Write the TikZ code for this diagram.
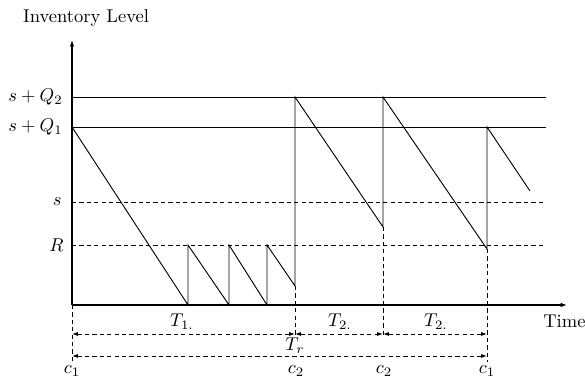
\documentclass[tikz,border=0pt]{standalone}
\usetikzlibrary{arrows.meta}
\begin{document}
\begin{tikzpicture}[x=0.54pt,y=-0.54pt,
  ln/.style={line width=0.5pt},
  dsh/.style={line width=0.5pt,dash pattern=on 2.3pt off 1.7pt},
  ax/.style={line width=0.6pt,-{Latex[length=3.4pt,width=2.4pt]}},
  dim/.style={dsh,{Latex[length=3.2pt,width=2.2pt]}-{Latex[length=3.2pt,width=2.2pt]}},
  dimr/.style={dsh,-{Latex[length=3.2pt,width=2.2pt]}},
  lbl/.style={inner sep=0pt}]
\useasboundingbox (0,0) rectangle (585,383);
% key coordinates
\coordinate (O) at (72,305);
\coordinate (Ytop) at (72,40);
\coordinate (Xend) at (567,305);
% labels
\node[lbl] (title) at (86,18) {Inventory Level};
\node[lbl,anchor=east] (lq2) at (63,97) {$s+Q_2$};
\node[lbl,anchor=east] (lq1) at (63,127) {$s+Q_1$};
\node[lbl,anchor=east] (ls) at (62,202) {$s$};
\node[lbl,anchor=east] (lR) at (64,245) {$R$};
\node[lbl,anchor=west] (time) at (543,321) {Time};
% axes
\draw[ax] (O) -- (Ytop);
\draw[ax] (O) -- (Xend);
% level lines
\draw[ln] (72,97) coordinate (q2a) -- (546,97) coordinate (q2b);
\draw[ln] (72,127) coordinate (q1a) -- (546,127) coordinate (q1b);
\draw[dsh] (72,202) coordinate (sa) -- (546,202) coordinate (sb);
\draw[dsh] (72,245) coordinate (ra) -- (546,245) coordinate (rb);
% sawtooth
\coordinate (p0) at (72,127);
\coordinate (p1) at (188,305); \coordinate (p1t) at (188,245);
\coordinate (p2) at (229,305); \coordinate (p2t) at (229,245);
\coordinate (p3) at (267,305); \coordinate (p3t) at (267,245);
\coordinate (p4) at (295,286); \coordinate (p4t) at (295,97);
\coordinate (p5) at (383,227); \coordinate (p5t) at (383,97);
\coordinate (p6) at (487,249); \coordinate (p6t) at (487,127);
\coordinate (p7) at (530,191);
\draw[ln,line join=miter] (p0) -- (p1) -- (p1t) -- (p2) -- (p2t) -- (p3) -- (p3t) -- (p4) -- (p4t) -- (p5) -- (p5t) -- (p6) -- (p6t) -- (p7);
% dashed verticals
\coordinate (v0) at (72,362);
\coordinate (v1) at (295,336);
\coordinate (v2) at (383,336);
\coordinate (v3) at (487,362);
\draw[dsh] (O) -- (v0);
\draw[dsh] (p4) -- (v1);
\draw[dsh] (p5) -- (v2);
\draw[dsh] (p6) -- (v3);
% dimension lines
\coordinate (d0) at (72,334);
\coordinate (d1) at (295,334);
\coordinate (d2) at (383,334);
\coordinate (d3) at (487,334);
\draw[dim] (d0) -- (d1);
\draw[dim] (d1) -- (d2);
\draw[dim] (d2) -- (d3);
\coordinate (e0) at (72,356);
\coordinate (e1) at (487,356);
\draw[dim] (e0) -- (e1);
% dimension labels
\node[lbl] (T1) at (182,322) {$T_{1.}$};
\node[lbl] (T2a) at (340,322) {$T_{2.}$};
\node[lbl] (T2b) at (436,322) {$T_{2.}$};
\node[lbl,fill=white,inner sep=0.5pt] (Tr) at (295,346) {$T_r$};
\node[lbl] (c1a) at (72,371) {$c_1$};
\node[lbl] (c2a) at (296,371) {$c_2$};
\node[lbl] (c2b) at (384,371) {$c_2$};
\node[lbl] (c1b) at (487,371) {$c_1$};
\end{tikzpicture}
\end{document}
